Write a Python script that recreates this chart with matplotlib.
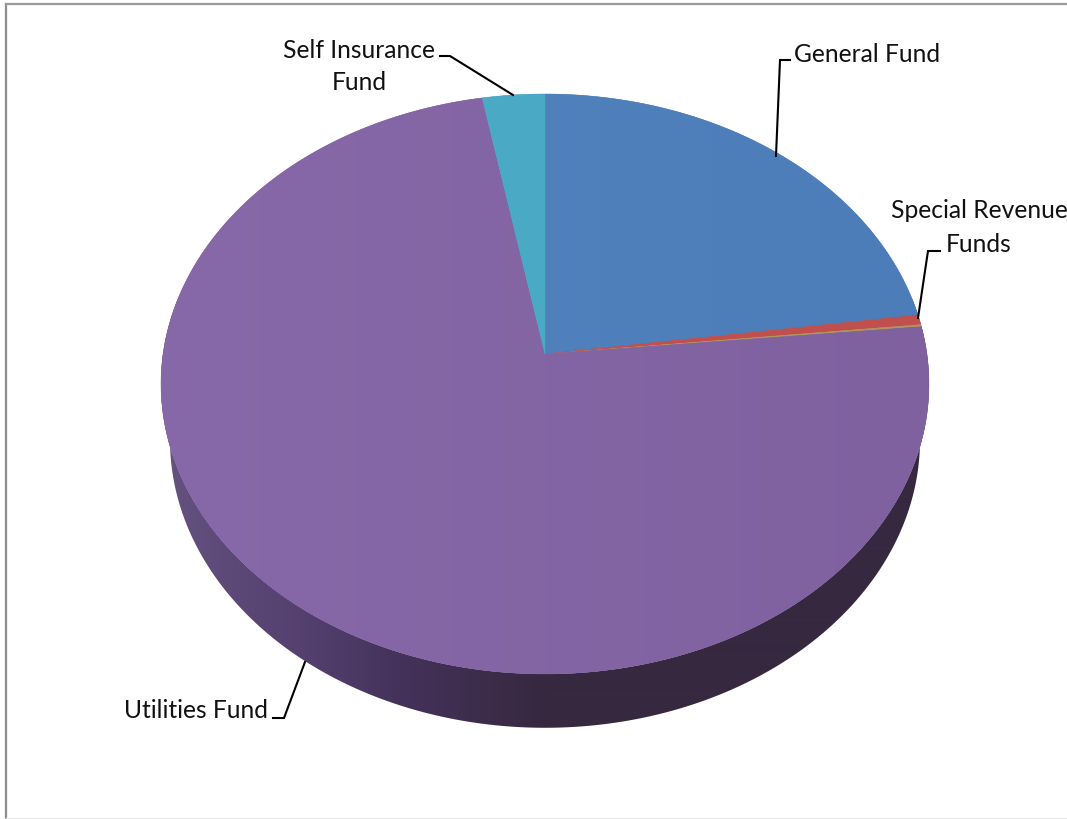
import matplotlib
matplotlib.use('Agg')
import matplotlib.pyplot as plt
import numpy as np
from matplotlib.colors import to_rgb
from matplotlib.patches import Polygon

plt.rcParams['font.family'] = ['Lato', 'DejaVu Sans']

# Share of each fund, clockwise from twelve o'clock
funds = ['General Fund', 'Special Revenue Funds', 'Other', 'Utilities Fund', 'Self Insurance Fund']
shares = [22.8, 0.55, 0.12, 73.63, 2.9]

# Left and right shade of each slice
shade_left = ['#5384c1', '#c0504d', '#b0945f', '#8769a9', '#4bacc8']
shade_right = ['#4d7db8', '#c0504d', '#b0945f', '#7f61a0', '#4aa9c4']

# Shades across the outer wall, left to right
wall_x = [165, 300, 400, 545, 930]
wall_colors = ['#64527f', '#554070', '#44325a', '#372840', '#35283f']

W, H = 1067, 820
CX = 545
K = 0.1034     # perspective strength


def rim(theta, apex_y, half_w, half_h):
    # theta runs clockwise from the back of the disc
    x = np.sin(theta)
    y = np.cos(theta)
    w = 1 + K * y
    scale = np.sqrt(1 - K ** 2)
    return CX + half_w * scale * x / w, apex_y - half_h * (1 - K ** 2) * y / w


def top_rim(theta):
    return rim(theta, 355, 384, 290)


def bottom_rim(theta):
    return rim(theta, 411, 375, 288)


fig = plt.figure(figsize=(W / 100, H / 100), dpi=100)
ax = fig.add_axes([0, 0, 1, 1])

# Outer wall: horizontal gradient clipped to the band between both rims
t = np.linspace(np.pi * 0.4, np.pi * 1.6, 721)
xt, yt = top_rim(t)
xb, yb = bottom_rim(t)
wall = Polygon(np.column_stack([np.r_[xt, xb[::-1]], np.r_[yt, yb[::-1]]]), closed=True,
               facecolor='none', edgecolor='none', transform=ax.transData)
ax.add_patch(wall)
columns = np.arange(160, 932)
stops = np.array([to_rgb(c) for c in wall_colors])
wall_img = np.stack([np.interp(columns, wall_x, stops[:, j]) for j in range(3)], axis=1)[None, :, :]
im = ax.imshow(wall_img, extent=[160, 932, 760, 300], aspect='auto', interpolation='bilinear', zorder=1)
im.set_clip_path(wall)

# Top face, one clipped gradient per slice
fractions = np.cumsum([0] + shares) / sum(shares)
for i in range(len(shares)):
    th = 2 * np.pi * np.linspace(fractions[i], fractions[i + 1], 200)
    xs, ys = top_rim(th)
    verts = np.column_stack([np.r_[CX, xs], np.r_[355, ys]])
    patch = Polygon(verts, closed=True, transform=ax.transData,
                    facecolor=shade_right[i], edgecolor=shade_right[i], lw=0.3, zorder=2)
    ax.add_patch(patch)
    left = np.array(to_rgb(shade_left[i]))
    right = np.array(to_rgb(shade_right[i]))
    ramp = np.linspace(0, 1, 256)[:, None]
    img = (left + (right - left) * ramp)[None, :, :]
    im = ax.imshow(img, extent=[160, 932, 680, 90], aspect='auto', interpolation='bilinear', zorder=2)
    im.set_clip_path(patch)

# Leader lines
leaders = [
    ([790, 780, 776], [61, 61, 157]),
    ([940, 928, 918], [252, 252, 319]),
    ([440, 450, 513], [57, 57, 96]),
    ([273, 284, 305], [719, 719, 663]),
]
for lx, ly in leaders:
    ax.plot(lx, ly, color='black', lw=1.5, solid_joinstyle='miter', zorder=3)

# Slice labels
font = 17.7
ink = '#111111'
ax.text(794, 55, funds[0], fontsize=font, ha='left', va='center', color=ink)
ax.text(979, 211, 'Special Revenue', fontsize=font, ha='center', va='center', color=ink)
ax.text(979, 245, 'Funds', fontsize=font, ha='center', va='center', color=ink)
ax.text(359, 50, 'Self Insurance', fontsize=font, ha='center', va='center', color=ink)
ax.text(359, 82, 'Fund', fontsize=font, ha='center', va='center', color=ink)
ax.text(268, 711, funds[3], fontsize=font, ha='right', va='center', color=ink)

# Chart frame
ax.plot([6, 6], [5, 820], color='#8c8c8c', lw=1.6)
ax.plot([6, 1067], [5, 5], color='#9a9a9a', lw=1.6)
ax.plot([6, 1067], [819, 819], color='#e8e8e8', lw=1)

ax.set_xlim(0, W)
ax.set_ylim(H, 0)
ax.axis('off')

fig.savefig('out.png', dpi=100)
